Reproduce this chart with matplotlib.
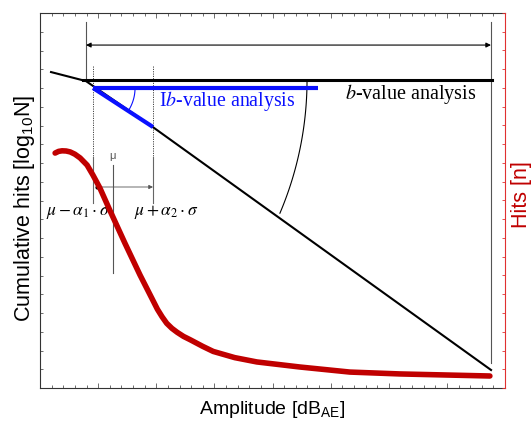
import numpy as np
import matplotlib
matplotlib.use("Agg")
import matplotlib.pyplot as plt
from matplotlib.ticker import MultipleLocator, NullFormatter

# ---- data (amplitude in dB, cumulative hits on log scale units, hits) ----
cum_amp = [1.9, 7.9, 19.4, 77.6]
cum_log = [16.85, 16.37, 13.92, 0.96]

b_amp = [7.4, 77.7]
b_log = [16.43, 16.43]

ib_h_amp = [9.12, 47.8]
ib_h_log = [16.0, 16.0]
ib_d_amp = [9.12, 19.44]
ib_d_log = [16.0, 13.92]

hits_amp = [2.6, 3.2, 3.8, 4.5, 5.2, 6.0, 6.9, 8.1, 9.1, 10.3, 12.0, 14.6,
            17.2, 19.3, 20.2, 21.0, 21.8, 22.7, 23.6, 24.7, 25.8, 28.0,
            29.8, 33.5, 37.3, 44.7, 53.3, 61.9, 77.4]
hits_n = [12.53, 12.62, 12.65, 12.64, 12.59, 12.47, 12.27, 11.89, 11.36,
          10.67, 9.49, 7.73, 6.03, 4.75, 4.2, 3.8, 3.45, 3.18, 2.97, 2.75,
          2.58, 2.22, 1.95, 1.62, 1.39, 1.12, 0.85, 0.75, 0.64]

mu = 12.56
mu_lo = 9.12
mu_hi = 19.44
range_lo = 7.91
range_hi = 77.59

fig = plt.figure(figsize=(5.31, 4.21), dpi=100)
ax = fig.add_axes([40 / 531, 1 - 388 / 421, 465 / 531, 375 / 421])
ax2 = ax.twinx()

ax.set_xlim(0, 80)
ax.set_ylim(0, 20)
ax2.set_ylim(0, 20)

# axes styling
for s in ["left", "top", "bottom"]:
    ax.spines[s].set_color("#333333")
    ax.spines[s].set_linewidth(0.8)
ax.spines["right"].set_visible(False)
for s in ["left", "top", "bottom"]:
    ax2.spines[s].set_visible(False)
ax2.spines["right"].set_color("#e03030")
ax2.spines["right"].set_linewidth(0.8)

ax.xaxis.set_major_locator(MultipleLocator(10))
ax.xaxis.set_minor_locator(MultipleLocator(2))
ax.yaxis.set_major_locator(MultipleLocator(1))
ax.xaxis.set_major_formatter(NullFormatter())
ax.yaxis.set_major_formatter(NullFormatter())
ax.tick_params(axis="x", which="both", direction="in", top=True, bottom=True,
               color="#555555", width=0.6)
ax.tick_params(axis="x", which="major", length=3.5)
ax.tick_params(axis="x", which="minor", length=2)
ax.tick_params(axis="y", which="major", direction="in", length=2.5,
               color="#555555", width=0.6, right=False)
ax2.yaxis.set_major_locator(MultipleLocator(1))
ax2.yaxis.set_major_formatter(NullFormatter())
ax2.tick_params(axis="y", direction="in", length=2.5, color="#e03030", width=0.6)

# cumulative distribution and b-value fit
ax.plot(cum_amp, cum_log, color="black", lw=1.5, zorder=3)
ax.plot(b_amp, b_log, color="black", lw=2.2, zorder=3)

# analysis range markers
ax.plot([range_lo, range_lo], [19.52, 16.43], color="#555555", lw=0.8)
ax.plot([range_hi, range_hi], [19.52, 1.33], color="#555555", lw=0.8)
ax.annotate("", xy=(range_hi, 18.29), xytext=(range_lo, 18.29),
            arrowprops=dict(arrowstyle="<|-|>", color="black", lw=0.8,
                            mutation_scale=7, shrinkA=0, shrinkB=0))

# Ib-value window bounds
for xv in (mu_lo, mu_hi):
    ax.plot([xv, xv], [17.17, 12.3], color="#444444", lw=0.7, ls=(0, (1.2, 1.2)))
    ax.plot([xv, xv], [12.3, 9.87], color="#666666", lw=0.8)
ax.annotate("", xy=(mu_hi, 10.72), xytext=(mu_lo + 0.7, 10.72),
            arrowprops=dict(arrowstyle="-|>", color="#555555", lw=0.6,
                            mutation_scale=6, shrinkA=0, shrinkB=0))
ax.plot([mu_lo + 0.7], [10.72], marker="o", ms=2, color="black")
ax.plot([mu, mu], [11.89, 6.13], color="#555555", lw=0.8)
ax.text(mu - 0.15, 12.35, "μ", fontsize=8, color="#555555", ha="center",
        va="center", family="Liberation Sans")

ax.text(6.5, 9.39, r"$\mu - \alpha_1 \cdot \sigma$", fontsize=12.5,
        ha="center", va="center", math_fontfamily="stix")
ax.text(21.7, 9.39, r"$\mu + \alpha_2 \cdot \sigma$", fontsize=12.5,
        ha="center", va="center", math_fontfamily="stix")

# Ib-value fit
ax.plot(ib_h_amp, ib_h_log, color="#0a10ff", lw=3.0, zorder=4,
        solid_capstyle="butt")
ax.plot(ib_d_amp, ib_d_log, color="#0a10ff", lw=3.0, zorder=4,
        solid_capstyle="butt")

# angle arcs (circular in screen space)
t = np.radians(np.linspace(-33, 0, 40))
ax.plot(mu_lo + 7.23 * np.cos(t), 16.0 + 2.24 * np.sin(t), color="#0a10ff", lw=0.8)
t = np.radians(np.linspace(-23, 0, 60))
ax.plot(-12.73 + 58.67 * np.cos(t), 16.43 + 18.19 * np.sin(t), color="black", lw=0.8)

ax.text(20.4, 15.3, r"I$b$-value analysis", fontsize=14.3, color="#0a10ff",
        ha="left", va="center", family="Liberation Serif", math_fontfamily="stix")
ax.text(52.5, 15.7, r"$b$-value analysis", fontsize=14.5, color="black",
        ha="left", va="center", family="Liberation Serif", math_fontfamily="stix")

# hit distribution on the secondary axis
ax2.plot(hits_amp, hits_n, color="#c00000", lw=4, solid_capstyle="round",
         solid_joinstyle="round")

# axis labels
ax.text(0.5, -0.058, r"Amplitude [dB$_{\mathrm{AE}}$]", transform=ax.transAxes,
        fontsize=14, ha="center", va="center", family="Liberation Sans",
        math_fontfamily="custom")
ax.text(-0.034, 0.48, r"Cumulative hits [log$_{10}$N]", transform=ax.transAxes,
        fontsize=15.5, ha="center", va="center", rotation=90,
        family="Liberation Sans", math_fontfamily="custom")
ax.text(1.035, 0.517, "Hits [n]", transform=ax.transAxes, fontsize=15.5,
        color="#c00000", ha="center", va="center", rotation=90,
        family="Liberation Sans")

plt.rcParams["mathtext.rm"] = "Liberation Sans"
plt.rcParams["mathtext.it"] = "Liberation Sans:italic"

fig.savefig("out.png", dpi=100)
